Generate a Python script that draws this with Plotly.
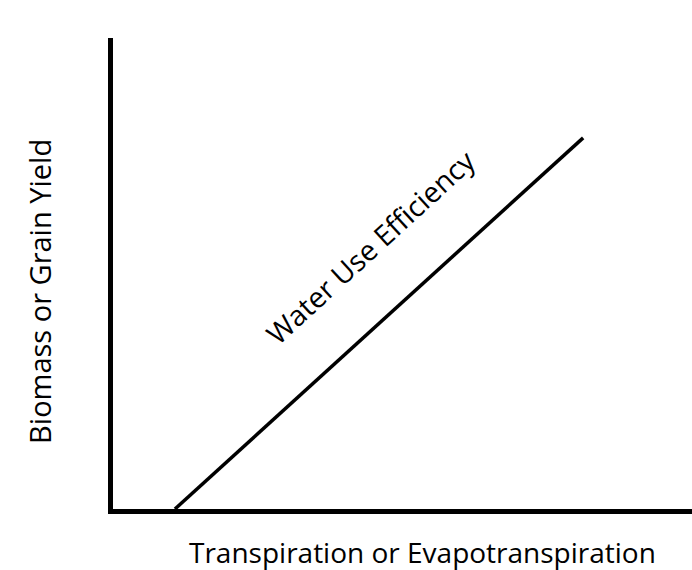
import plotly.graph_objects as go

# Conceptual data (axis units 0-100)
wue_x = [10.7, 81.2]
wue_y = [0, 78.8]
line_label = "Water Use Efficiency"
x_title = "Transpiration or Evapotranspiration"
y_title = "Biomass or Grain Yield"

FONT = "Open Sans, Noto Sans, sans-serif"

fig = go.Figure()
fig.add_trace(go.Scatter(x=wue_x, y=wue_y, mode="lines",
                         line=dict(color="black", width=3.5),
                         showlegend=False, hoverinfo="skip", cliponaxis=False))

fig.add_annotation(x=44.4, y=55.7, xref="x", yref="y", text=line_label,
                   textangle=-42.5, showarrow=False, xanchor="center", yanchor="middle",
                   font=dict(family=FONT, size=28.5, color="black"))
fig.add_annotation(x=0.535, y=-0.092, xref="paper", yref="paper", text=x_title,
                   showarrow=False, xanchor="center", yanchor="middle",
                   font=dict(family=FONT, size=28, color="black"))
fig.add_annotation(x=-0.126, y=0.461, xref="paper", yref="paper", text=y_title,
                   textangle=-90, showarrow=False, xanchor="center", yanchor="middle",
                   font=dict(family=FONT, size=29, color="black"))

fig.update_xaxes(range=[0, 100], showline=True, linecolor="black", linewidth=5,
                 showgrid=False, zeroline=False, showticklabels=False, ticks="")
fig.update_yaxes(range=[0, 100], showline=True, linecolor="black", linewidth=5,
                 showgrid=False, zeroline=False, showticklabels=False, ticks="")

fig.update_layout(width=692, height=570, margin=dict(l=113, r=0, t=38, b=60.5),
                  plot_bgcolor="white", paper_bgcolor="white",
                  font=dict(family=FONT))

fig.write_html("out.html", config={"displayModeBar": False},
               post_script="document.body.style.margin='0';document.body.style.overflow='hidden';")
